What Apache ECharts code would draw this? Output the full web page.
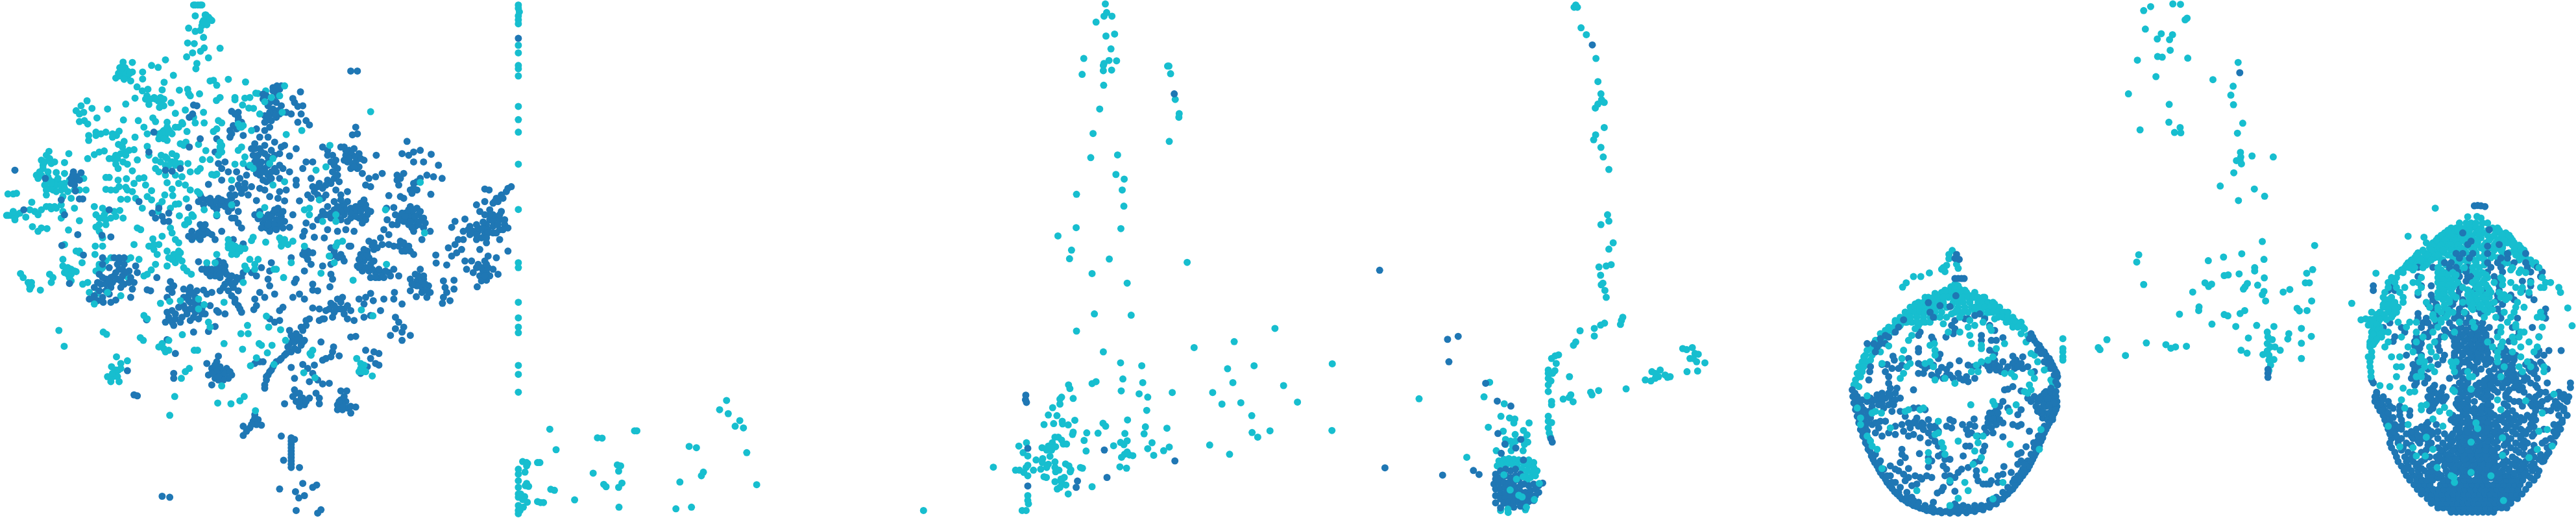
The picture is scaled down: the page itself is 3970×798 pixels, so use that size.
<!DOCTYPE html>
<html><head><meta charset="utf-8"><style>html,body{margin:0;padding:0;background:#fff}#c{width:3970px;height:798px}</style>
<script src="https://cdn.jsdelivr.net/npm/echarts@6/dist/echarts.min.js"></script></head><body><div id="c"></div>
<script>
const tealColor='#17becf', blueColor='#1f77b4';
const p1Teal=[598,15,585,15,610,15,590,48,622,45,630,52,640,62,615,62,610,78,625,75,570,85,590,95,605,92,615,113,567,130,587,132,617,145,606,155,582,160,665,146,564,172,630,175,595,192,592,208,
372,188,362,205,378,205,368,215,385,215,400,218,375,225,360,230,350,236,385,232,395,245,400,189,431,218,458,198,478,204,500,181,524,228,431,239,496,249,414,263,447,270,430,275,444,290,455,300,450,316,408,297,380,315,466,295,490,272,485,295,478,305,495,320,482,325,517,311,542,273,567,270,575,290,570,283,603,284,635,245,645,243,655,258,690,240,742,248,654,304,665,295,710,295,710,302,740,297,755,295,780,283,803,275,773,282,733,318,752,327,766,328,615,340,585,355,560,333,530,343,660,365,590,372,617,372,550,371,530,385,505,370,373,363,418,365,462,357,470,368,435,385,445,405,408,415,510,393,495,395,500,410,485,410,520,405,505,425,480,420,540,385,552,375,565,398,562,430,545,435,555,440,645,398,655,390,670,372,600,437,622,456,612,483,635,483,597,518,605,510,640,528,655,527,
263,305,245,320,230,335,240,345,253,340,278,328,325,330,240,368,255,365,265,375,293,357,268,410,290,400,305,405,320,400,340,405,352,410,360,397,268,425,358,437,375,428,370,445,390,455,405,453,380,460,365,465,350,470,342,480,355,480,380,470,372,490,350,497,357,510,385,497,265,480,285,468,300,460,315,457,330,480,400,517,415,484,445,443,450,470,470,485,487,470,500,475,520,465,533,472,485,490,470,510,480,520,500,500,520,490,530,500,545,495,568,495,500,530,505,553,530,530,550,535,540,555,575,520,575,575,597,580,560,560,520,572,522,592,330,537,320,537,357,545,382,541,360,565,350,575,320,573,335,575,405,555,420,540,435,538,440,560,380,567,385,575,400,580,458,577,445,595,458,605,410,600,385,603,365,603,430,630,480,622,498,590,490,610,530,618,540,617,563,602,515,630,478,640,542,653,580,650,567,665,558,680,570,672,584,655,
148,458,140,470,125,485,130,500,150,480,165,490,195,492,208,465,110,530,120,520,130,510,145,520,170,522,195,525,135,560,150,545,165,550,180,555,195,555,210,545,150,570,165,565,185,575,205,580,225,575,240,575,260,575,253,540,140,590,190,595,215,600,24,587,40,587,50,585,96,612,20,652,35,652,50,650,60,645,45,665,78,657,90,635,105,640,115,650,125,635,140,625,155,632,170,630,185,620,190,640,185,660,225,630,240,668,98,686,115,700,125,690,142,692,207,696,285,625,310,630,320,640,345,640,362,637,290,650,300,660,320,665,335,660,350,655,372,660,320,680,290,687,300,700,310,720,310,745,288,745,195,740,230,760,240,765,287,770,415,690,425,695,405,740,462,723,490,715,480,740,450,745,465,740,465,755,530,725,540,735,515,690,520,705,560,680,600,720,
475,770,505,760,510,780,525,770,545,765,535,780,550,790,505,805,470,800,530,795,555,810,565,820,578,830,420,785,435,835,445,830,457,817,385,785,395,780,190,785,190,805,205,810,215,815,205,830,230,822,195,825,210,840,215,850,248,795,240,760,300,800,305,815,290,820,320,790,335,780,385,838,62,828,70,840,85,855,95,865,90,875,122,878,150,830,160,840,155,855,265,855,250,860,270,885,295,888,
170,560,155,555,160,575,175,540,185,560,170,580,140,550,125,530,145,535,135,490,155,495,115,540,140,575,195,570,370,200,365,215,380,225,392,222,375,240,358,222,440,300,470,300,485,310,495,300,505,385,500,400,515,400,490,400,480,405,495,420,350,407,340,415,290,410,520,490,510,500,530,490,505,480,165,625,150,625,45,655,25,652,40,640,315,650,310,660,300,680,205,825,215,830,200,815,225,820,90,865,95,855,620,45,625,60,635,58,612,68,590,15,605,15,300,805,310,810,530,770,540,780,520,785,540,760];
const p1Blue=[837,260,825,265,845,270,835,280,908,278,795,285,885,298,890,310,915,320,900,322,835,310,850,320,810,320,825,330,845,345,865,340,880,345,800,350,820,365,835,355,910,345,925,365,900,370,935,378,815,385,775,390,800,395,785,415,810,415,830,430,860,440,850,445,895,450,770,435,785,450,800,440,820,455,780,470,800,465,845,465,875,472,770,490,790,490,810,490,775,510,800,510,830,510,855,510,785,530,810,530,835,520,875,520,795,545,815,545,845,540,895,545,895,560,800,575,845,580,860,608,840,600,815,595,865,575,
700,337,720,340,720,355,730,370,705,380,695,395,695,415,735,410,655,420,650,460,680,490,660,495,670,510,690,520,715,520,750,505,745,530,725,540,740,555,760,565,720,560,670,545,630,558,700,570,730,585,750,590,785,570,775,607,695,590,660,600,635,600,605,590,600,610,615,620,645,625,665,620,680,610,700,600,715,615,690,640,655,653,720,640,700,660,720,675,730,690,595,320,585,318,572,355,582,345,465,400,605,420,572,445,545,510,520,518,500,515,570,628,510,645,490,655,470,660,480,630,420,610,460,645,510,670,495,670,330,635,235,710,335,717,308,712,187,743,252,772,195,650,185,605,240,602,250,602,222,520,245,523,215,540,230,545,225,560,228,578,137,540,45,515,72,635,450,460,
840,630,825,645,810,650,850,655,790,655,770,650,835,665,815,670,795,675,860,670,845,680,825,690,805,690,875,688,885,650,785,640,
1075,385,1065,408,1080,405,1060,215,1080,215,1230,428,975,445,990,455,1005,470,1015,485,1040,445,1055,455,1070,450,1045,470,1065,470,1085,465,1050,490,1075,490,1100,485,1060,510,1085,505,1137,470,925,490,945,490,915,510,1020,510,1005,520,1010,540,990,545,1025,550,940,540,965,555,945,565,975,570,960,590,985,590,930,590,1015,575,1050,580,1030,590,1115,540,1135,535,1155,525,1105,560,1095,525,1120,565,905,608,1100,605,1085,625,1050,610,1030,625,1010,635,990,625,975,640,1075,640,1060,630,1100,630,1040,650,1060,660,1085,660,1110,650,1095,675,960,665,1000,660,1030,665,925,675,945,685,920,700,915,715,990,695,1020,700,1045,695,1070,700,950,718,980,720,1055,745,1115,730,1130,735,1175,592,1168,630,1190,628,1210,595,1220,600,1170,665,1185,680,1160,695,1175,710,1150,720,1200,530,1220,525,1205,560,1215,465,1235,470,1250,460,1270,455,1250,490,1280,490,1303,467,1325,500,1250,555,1270,540,1290,530,1310,535,1336,540,1240,575,1260,575,1302,588,
1240,625,1260,630,1225,645,1245,645,1265,650,1210,655,1230,665,1250,665,1275,665,1235,680,1255,685,1280,690,1200,680,1300,700,1250,700,1275,725,1190,745,1210,730,1225,745,1240,760,1215,760,1250,770,1175,740,1155,740,1130,755,1110,760,1090,770,1115,780,1100,790,1130,790,1080,805,1095,820,1115,820,1135,825,1155,825,1175,825,1190,815,1205,835,1120,840,1145,840,
1270,815,1255,830,1240,845,1260,850,1280,845,1250,862,1275,870,1295,865,1240,880,1300,885,1275,885,1258,898,1290,900,1340,850,1372,848,1345,870,1372,875,1350,885,1340,900,1360,910,1337,918,
1465,572,1478,575,1545,565,1530,580,1515,590,1500,600,1490,615,1465,610,1440,620,1450,640,1480,635,1495,660,1480,665,1510,665,1525,680,1470,680,1440,680,1490,685,1510,695,1535,690,1405,663,1420,685,1375,670,1365,688,1400,700,1420,710,1445,700,1465,705,1490,705,1440,725,1400,725,1385,725,1470,735,1510,725,1355,750,1375,740,1380,765,1395,755,1365,775,1405,790,1425,790,1450,755,1475,775,1500,780,1535,760,1317,772,1318,796,1350,802,1445,800,1410,815,1430,825,1455,810,1470,825,1490,815,1505,830,1450,835,1470,848,1442,868,
1060,745,1085,810,1000,800,975,805,1040,790,1030,770,1010,770,1000,750,1000,830,1005,845,920,820,890,855,895,845,997,868,945,860,960,880,945,878,930,760,915,770,945,765,930,785,940,800,880,780,
600,792,610,815,625,825,640,815,655,800,660,820,680,805,685,830,665,840,690,850,720,845,705,870,730,840,690,880,735,825,760,825,775,835,790,810,820,795,815,820,810,845,815,865,830,890,785,885,770,905,800,900,775,925,767,937,710,905,720,925,730,945,665,880,640,885,680,950,660,945,580,700,605,680,620,680,595,715,615,710,640,710,650,725,580,725,670,700,705,725,735,738,710,745,515,852,525,865,445,877,455,880,520,885,505,900,575,870,595,880,615,878,570,895,590,900,625,890,575,915,555,925,590,930,610,935,635,925,655,940,505,945,530,950,520,975,550,960,575,970,600,965,630,1003,650,988,585,1005,500,975,525,985,443,968,505,1028,530,1070,474,840,
310,780,345,780,360,790,375,800,310,800,410,805,330,810,360,815,390,820,300,830,320,845,345,835,370,835,395,840,415,825,295,855,340,855,365,850,405,855,285,870,365,870,400,875,320,880,270,905,285,895,310,900,335,915,312,915,350,908,395,900,210,858,330,890,
660,1078,655,1095,625,1100,640,1115,665,1110,685,1115,700,1135,645,1130,670,1140,690,1145,630,1135,640,1165,660,1150,525,1130,525,1145,385,1122,405,1195,415,1198,1060,1020,1075,1018,
935,965,925,985,910,990,875,1000,885,1025,905,1020,875,1040,910,1045,900,1060,880,1065,865,1070,850,1085,835,1095,820,1120,810,1135,805,1150,800,1165,800,1175,770,1100,785,1095,795,1095,880,1112,915,1103,930,1115,950,1105,945,1130,935,1155,960,1150,975,1162,995,1160,890,1145,970,1035,1008,1050,1005,1065,985,1085,1000,1080,1025,1077,975,1090,
1020,905,1035,900,1000,918,985,940,965,935,945,932,1020,935,1005,960,980,965,965,970,1040,935,1060,940,1050,965,1070,970,1085,905,1105,900,1100,920,1128,910,1100,960,1120,955,1150,940,1120,888,1160,905,1192,885,1190,905,1215,920,1195,960,1205,975,1220,990,1195,995,1215,1005,1240,1015,1180,1015,1215,1030,1105,1060,1130,1065,1145,1070,1120,1085,1135,1100,1145,1105,1110,1110,1090,1130,1100,1110,855,930,845,940,815,965,830,975,845,970,885,900,905,890,920,905,
890,1180,905,1190,885,1200,915,1205,935,1205,905,1230,860,1222,955,1190,965,1205,965,1222,1030,1183,1048,1183,1030,1210,1045,1215,1020,1225,1050,1235,1075,1232,1060,1250,1035,1240,770,1255,780,1270,765,1275,790,1287,755,1295,745,1305,735,1318,735,1290,850,1320,880,1325,890,1330,880,1345,880,1365,880,1385,857,1393,880,1415,905,1415,490,1502,513,1505,845,1480,915,1463,893,1488,920,1500,903,1507,945,1475,957,1468,895,1545,970,1543,960,1553,
780,662,800,662,820,655,840,645,855,640,830,680,810,680,790,690,815,700,835,695,855,690,830,635,845,665,1235,635,1250,635,1215,645,1235,655,1255,655,1270,640,1220,670,1240,672,1262,672,1280,660,1205,668,1245,690,1265,680,1285,675,1225,655,1195,650,1220,735,1235,745,1205,745,1225,760,
1445,690,1460,690,1475,695,1490,670,1505,680,1520,695,1500,705,1460,672,1475,705,1430,700,1415,695,1490,650,1510,650,1480,650,1465,650,1455,720,1470,720,1440,710,1525,665,1515,640,1505,610,1520,600,1535,570,1495,610,1465,790,1460,820,1475,810,1440,810,1470,800,1480,835,1455,850,1465,835,
625,810,640,825,655,815,670,810,680,820,650,835,665,830,635,835,660,790,675,795,695,840,710,855,700,860,715,840,650,1105,660,1120,675,1125,650,1145,665,1130,680,1130,695,1125,655,1125,640,1130,675,1150,660,1140,
790,510,810,500,820,520,800,520,775,525,790,460,775,480,765,470,810,475,830,470,785,500,820,540,790,520,845,500,805,550,760,450,770,450,840,335,820,345,830,345,815,340,805,365,810,350,800,370,835,265,850,260,825,275,840,290,825,305,815,310,795,300,805,290,
1040,620,1060,645,1075,625,1090,640,1105,620,1110,635,1090,615,1045,635,1030,640,1020,625,1075,655,1050,670,1095,655,1010,610,1030,605,1000,645,1020,650,985,650,970,655,1105,665,1120,640,1060,460,1055,480,1075,475,1090,480,1065,495,1045,455,1030,445,1040,485,1080,510,1070,505,990,470,1000,490,1010,500,1020,530,1000,555,985,560,960,565,950,580,940,600,975,600,
1105,810,1125,815,1145,815,1165,820,1180,835,1160,840,1135,840,1120,800,1100,775,1090,800,1110,770,1125,745,1140,750,1100,755,1085,785,1265,835,1275,855,1285,860,1260,865,1290,880,1245,860,1280,835,
555,900,570,910,585,915,600,920,560,935,575,935,590,945,610,950,540,930,520,940,510,960,530,965,545,975,565,950,585,960,620,950,570,880,555,875,580,885,520,870,510,875,355,800,370,815,380,825,350,825,335,840,355,845,320,860,305,860,335,870,300,880,280,905,295,910,375,860,390,855,310,840,330,850,360,780,375,780,220,530,232,535,240,545,215,555,
700,895,710,915,725,935,720,880,680,860,675,870,700,835,610,695,600,705,625,700,585,715,605,725,630,705,615,690,570,715,650,610,670,605,680,625,690,610,625,605,610,600,635,615,655,635,710,590,725,570,740,570,700,630,710,660,1010,760,1020,780,1035,780,1000,775,925,775,935,765,920,760,
890,1035,900,1030,920,1030,890,1055,915,1035,870,1050,860,1075,845,1090,825,1110,815,1125,805,1140,1035,1225,1025,1215,1040,1200,1060,1230,1020,1240,895,1190,910,1205,895,1215,920,1225,905,1215,925,1215,770,1265,775,1285,760,1285,880,1335,880,1355,880,1375,880,1395,880,1405,995,935,1010,945,1030,935,1040,950,1050,925,1030,915,1010,925,975,965,925,970,915,1000,895,1010,880,1015,710,345,725,380,715,390,700,405,720,365,1210,540,1200,545,1260,550,1250,570,1245,585];
const p1TealTop=[325,885,285,920,365,895,690,725,700,740,690,750,710,760,725,760,700,770,740,752,765,718,760,728,803,733,845,720,860,725,850,745,885,730,870,740,920,745,755,785,740,805,770,800,780,785,745,815,770,815,655,770,625,795,650,795,735,855,828,815,835,815,857,840,880,795,970,827,1010,795,1020,735,1035,730,1015,745,995,775,1067,848,1168,800,1283,705,1270,552,1165,635,1015,650,1015,670,975,670,935,650,920,635,935,630,965,605,955,515,985,505,997,440,860,550,800,628,785,650,700,620,1120,338,865,407,912,395,860,260,845,290,853,340,820,295,800,308,785,345,760,395,725,385,735,380,720,455,730,445,710,497,735,495,755,500,765,510,740,475,665,430,668,445,660,470,670,460,825,480,815,495,825,560,700,545,648,530,603,585,617,635,655,650,
485,918,513,912,545,910,600,905,617,922,600,935,677,915,435,955,445,965,630,975,635,990,178,1000,312,1005,322,1012,194,1048,424,1022,433,1030,551,1013,587,1060,597,1060,677,1040,733,1057,728,1010,748,985,750,1010,805,957,812,990,848,998,863,1030,783,1040,790,1045,822,1045,808,1068,775,1083,757,1107,828,1103,937,1070,945,1060,940,1075,918,1128,952,1143,490,1040,510,1030,495,1055,510,1060,480,1050,500,1065,352,1080,385,1092,365,1100,337,1110,358,1120,350,1130,340,1140,325,1140,335,1155,360,1155,528,1200,513,1257,572,1115,560,1125,548,1145,658,1220,698,1222,725,1213,738,1200,772,1243,1092,938,1127,956,1078,1085,1095,1115,1085,1125,1105,1125,1125,1138,1090,1100,670,1168,
700,755,710,745,715,770,690,740,725,750,350,1120,345,1130,355,1140,340,1130,365,1115,1095,1125,1090,1115,1100,1105,850,730,860,735,730,385,720,375,665,445,670,440,665,455];
const p2Teal=[37,15,37,25,40,36,37,48,37,60,37,72,37,137,37,160,37,198,37,208,37,230,37,322,37,362,37,400,37,497,37,634,37,795,37,810,37,915,37,962,37,990,37,1007,37,1106,37,1133,37,1187,37,1420,37,1435,37,1455,37,1475,37,1495,37,1505,37,1530,37,1545,37,1555,
132,1299,151,1361,276,1325,290,1326,388,1304,395,1304,666,1212,645,1240,671,1252,706,1273,692,1290,717,1295,553,1351,575,1355,727,1370,50,1397,62,1400,65,1403,62,1410,95,1400,102,1400,57,1429,336,1407,346,1410,340,1426,263,1432,596,1429,590,1440,525,1459,757,1467,295,1466,302,1473,350,1462,340,1475,62,1463,58,1470,68,1472,135,1481,146,1484,207,1513,48,1503,56,1503,50,1512,44,1495,64,1520,95,1518,104,1521,113,1521,52,1535,42,1545,341,1535,513,1540,560,1535,1261,1545,1472,1414,
1549,1350,1562,1370,1572,1340,1576,1380,1539,1423,1551,1423,1564,1430,1571,1415,1576,1408,1576,1440,1576,1500,1576,1515,1559,1545,1571,1545,1578,1525];
const p2Blue=[37,116,1576,1357,1576,1471,1570,1196,1569,1210,1572,1218];
const p3Teal=[232,12,236,38,228,49,252,49,204,67,234,109,260,103,249,148,167,177,228,192,226,198,243,183,266,184,162,225,226,214,251,212,227,258,420,200,424,200,429,223,443,301,455,344,454,355,425,428,215,330,195,404,188,477,269,469,264,528,289,542,283,575,145,588,288,624,144,689,279,692,89,714,130,757,124,783,244,784,479,794,192,828,298,857,199,950,310,954,145,1002,744,994,621,1034,500,1052,226,1065,278,1098,342,1107,917,1101,601,1116,681,1107,285,1147,192,1161,204,1155,345,1158,617,1158,770,1167,121,1165,125,1176,280,1183,334,1192,360,1202,434,1188,556,1188,584,1223,641,1219,812,1217,1179,1207,100,1202,95,1208,95,1223,135,1206,73,1234,357,1242,60,1256,86,1258,674,1258,102,1275,103,1283,140,1272,120,1286,47,1285,76,1282,299,1271,225,1281,233,1290,353,1292,418,1296,135,1308,133,1315,176,1310,210,1311,291,1312,349,1313,675,1309,729,1304,692,1323,916,1303,80,1323,90,1323,100,1332,168,1333,278,1339,288,1346,298,1334,257,1349,373,1340,547,1347,425,1353,72,1340,60,1350,70,1355,82,1352,105,1344,115,1344,41,1355,55,1362,70,1362,174,1365,360,1358,408,1364,298,1368,290,1375,281,1384,305,1377,315,1379,378,1378,607,1375,65,1381,23,1392,43,1388,42,1400,80,1398,60,1405,112,1404,122,1410,157,1415,163,1417,276,1413,296,1417,37,1420,55,1415,80,1415,92,1423,82,1428,128,1422,126,1428,15,1423,47,1443,54,1445,98,1450,108,1445,80,1458,100,1460,113,1468,95,1475,87,1480,192,1473,120,1495,
1392,1157,1375,1201,1436,1222,1426,1260,1452,1265,1468,1268,1465,1280,1511,1280,1388,1293,1433,1305,1494,1303,1505,1316,1469,1315,1440,1330,1455,1335,1470,1335,1495,1330,1507,1338,1440,1345,1497,1345,1462,1350,1412,1364,1457,1364,1493,1364,1323,1384,
1420,1395,1435,1390,1450,1388,1465,1390,1480,1392,1510,1392,1525,1400,1415,1410,1430,1405,1445,1405,1460,1405,1475,1408,1495,1405,1510,1410,1525,1415,1535,1425,1490,1420,1505,1425,1520,1430,1500,1440,1515,1445,1530,1440,1505,1455,1425,1545,1448,1551,1500,1543];
const p3Blue=[440,284,1060,818,1265,1027,1297,1018,1269,1095,229,1362,442,1395,237,1445,148,1456,144,1475,1076,1416,1250,1438,1343,1424,1360,1436,1380,1160,1415,1214,1456,1229,1417,1312,1486,1330,1438,1344,1471,1356,1427,1372,1494,1392,
1410,1435,1425,1425,1440,1420,1455,1425,1470,1420,1410,1450,1425,1445,1440,1440,1455,1445,1470,1440,1485,1435,1405,1465,1420,1462,1435,1460,1450,1460,1465,1458,1480,1452,1495,1465,1410,1480,1425,1478,1440,1475,1455,1475,1470,1475,1485,1470,1510,1470,1525,1465,1540,1470,1410,1500,1425,1495,1440,1492,1455,1490,1470,1490,1485,1488,1500,1490,1515,1485,1530,1480,1540,1490,1425,1510,1440,1508,1455,1505,1470,1505,1485,1505,1500,1505,1515,1500,1530,1500,1410,1522,1435,1523,1450,1520,1465,1520,1480,1520,1495,1520,1510,1518,1525,1515,1425,1537,1450,1535,1465,1535,1485,1532,1500,1535,1552,1462];
const p3TealTop=[1435,1437,1454,1483,1480,1499,1490,1504,1447,1541,1503,1535,1527,1512,1506,1425,1473,1450,1493,1443,1542,1463];
const p4Teal=[90,22,100,22,95,15,111,84,127,105,156,177,162,247,171,284,173,302,162,315,181,310,154,327,181,386,155,408,149,423,171,446,178,475,195,513,191,650,195,669,171,680,208,735,195,754,165,808,187,805,202,801,170,833,177,857,172,862,183,879,187,900,237,960,233,970,230,982,182,978,170,984,151,994,151,1017,108,1001,95,1035,88,1045,43,1074,33,1077,22,1085,36,1100,32,1122,25,1130,12,1120,12,1130,12,1145,20,1153,12,1165,12,1185,76,1140,164,1182,140,1187,144,1195,57,1208,80,1195,87,1216,75,1203,22,1215,22,1225,247,1177,305,1150,322,1153,325,1125,335,1130,350,1120,345,1140,335,1145,365,1135,380,1140,372,1142,418,1055,430,1058,447,1052,455,1070,465,1072,440,1085,450,1085,460,1095,485,1098,431,1125,463,1123,12,1260,12,1275,22,1279,12,1295,15,1310,18,1322,
1115,837,1137,837,1163,826,1082,869,1093,856,1232,758,1222,770,1222,783,1215,803,1205,810,1200,815,1210,822,1250,812,1245,800,1228,868,1240,860,1250,865,1255,875,1235,880,1220,880,
1020,1015,1005,1030,990,1045,975,1060,985,1055,970,1075,990,1075,1015,1065,985,1090,960,1095,950,1110,960,1125,945,1130,940,1150,935,1165,950,1170,1000,1030,1030,1000,1060,970,1090,945,1120,920,1150,900,1180,888,1210,878,1240,876,1270,878,1300,885,1330,900,1360,920,1390,945,1420,970,1450,995,
1040,1000,1055,1005,1075,985,1090,975,1110,975,1130,985,1150,975,965,1080,975,1095,1000,1060,1010,1045,1025,1030,1015,1010,965,1110,950,1140,942,1165,955,1140,1440,1010,1460,1015,1455,1035,1480,1075,1490,1095,1470,1070,1520,1115,1510,1120,1530,1150,1540,1170,1535,1160,1200,895,1220,890,1240,890,1215,930,1230,925,1285,895,1300,900,1285,915,1290,930,1280,945,1300,940,1320,945,1330,960,1360,965,1345,945,1200,945,1215,960,1195,960,1120,945,1095,975];
const p4TealRows=[[885,[1200,1215,1230,1245,1260,1275]],[900,[1160,1175,1190,1205,1220,1235,1250,1265,1280,1295,1310,1325]],[915,[1130,1145,1160,1175,1190,1205,1235,1250,1265,1285,1310,1325,1340,1355]],[930,[1105,1120,1135,1150,1165,1180,1195,1250,1270,1300,1315,1330,1345,1360,1375]],[945,[1090,1105,1120,1135,1150,1165,1180,1240,1255,1340,1355,1370,1385,1400]],[960,[1075,1090,1105,1125,1145,1165,1180,1370,1385,1400,1415]],[975,[1060,1075,1125,1140,1165,1395,1410,1425,1440]],[990,[1040,1055,1415,1430,1445]]];
const p4Blue=[145,136,20,1328,24,1338,1245,770,1240,782,1253,785,1240,843,1250,843,1260,843,1268,843,1243,895,
930,1180,932,1200,935,1220,940,1240,945,1260,950,1280,955,1300,962,1320,970,1340,978,1360,988,1380,998,1400,1010,1420,1022,1440,1035,1460,1050,1478,1065,1495,1080,1510,1098,1522,1115,1530,1135,1538,1155,1545,1175,1550,1200,1552,1225,1553,1250,1553,1275,1552,1300,1548,1325,1543,1345,1535,1365,1525,1385,1510,1400,1495,1415,1480,1430,1460,1445,1440,1460,1420,1470,1400,1480,1380,1490,1360,1500,1335,1510,1310,1520,1290,1530,1270,1540,1250,1548,1230,
945,1200,950,1225,955,1250,960,1275,970,1295,965,1310,980,1330,985,1350,1000,1375,1015,1395,1025,1420,1045,1440,1060,1460,1075,1475,1095,1490,1110,1505,1130,1520,1150,1530,1170,1535,1265,1530,1280,1535,1250,1535,1240,1525,1225,1540,1300,1530,1320,1530,1345,1515,1365,1505,1385,1490,1400,1475,1415,1460,1430,1440,1445,1420,1460,1395,1470,1375,1480,1355,1490,1335,1500,1315,1510,1290,1525,1260,1535,1240,
1470,1010,1480,1030,1495,1045,1510,1065,1525,1085,1535,1105,1545,1125,1550,1140,1510,1095,1490,1060,1465,1025,1515,1185,1530,1185,1545,1185,1500,1200,1515,1200,1530,1200,1545,1200,1490,1215,1505,1215,1520,1215,1535,1215,1548,1215,1480,1200,1485,1230,1500,1235,1515,1230,1530,1232,1545,1232,1510,1250,1525,1250,1540,1250,1505,1265,1520,1270,1535,1270,
960,1210,975,1215,990,1215,1005,1210,965,1240,970,1260,985,1265,975,1280,990,1285,960,1295,975,1305,1000,1280,1015,1275,1030,1275,1010,1295,1000,1310,1020,1320,
1160,916,1195,925,1225,928,1165,945,1175,960,1240,970,1230,985,1270,965,1280,965,1300,955,1315,950,1330,965,1345,985,1360,1000,1085,968,1070,990,1060,1005,1030,1015,1015,1040,1135,1005,1130,1015,1170,1020,1175,1030,1213,1020,1240,995,1235,1010,1320,1015,1320,1030,1350,1030,1365,1030,1385,1022,1345,1060,1360,1070,1130,1055,1130,1065,1053,1078,1057,1090,1020,1103,1035,1103,1070,1115,1080,1105,1100,1085,1195,1072,1190,1085,1215,1118,1225,1105,1253,1092,1280,1105,1295,1110,1140,1105,1160,1108,1175,1105,1200,1112,1310,1110,1330,1100,1345,1100,1365,1105,1385,1095,1415,1078,1425,1090,1445,1080,1400,1110,1415,1100,1440,1100,1460,1110,1480,1125,1130,1130,1145,1130,1170,1135,1185,1140,1205,1145,1225,1135,1250,1130,1255,1145,1275,1140,1280,1155,1300,1145,1345,1120,1365,1120,1380,1125,1420,1115,983,1125,980,1150,1030,1125,1040,1140,1050,1115,1115,1180,
1045,1175,1020,1190,1040,1190,1060,1190,1005,1195,985,1205,1000,1210,1030,1205,1050,1210,1075,1205,1020,1220,1050,1245,1075,1245,1090,1260,1005,1280,1030,1275,1060,1290,1080,1285,1100,1280,1120,1275,1105,1295,1115,1315,1100,1320,1060,1315,1040,1310,1085,1305,1115,1235,1130,1235,1150,1240,1125,1265,1140,1280,1160,1270,1145,1300,1135,1325,1165,1290,1180,1290,1190,1305,1170,1320,1180,1335,1160,1340,1190,1350,1225,1270,1235,1275,1230,1295,1263,1285,1275,1300,1298,1268,1285,1285,1300,1290,1290,1310,1310,1320,1280,1315,1340,1265,1355,1250,1365,1240,1340,1280,1355,1275,1330,1295,1350,1295,1365,1285,1385,1280,1385,1215,1375,1230,1400,1235,1440,1240,1430,1255,1415,1285,1430,1290,1440,1285,1390,1180,1415,1170,1400,1178,1440,1183,1465,1305,1385,1322,
1080,1360,1080,1375,1090,1385,1133,1373,1075,1400,1100,1418,1160,1385,1170,1395,1160,1413,1190,1380,1200,1375,1210,1390,1205,1410,1215,1420,1225,1390,1265,1380,1273,1350,1285,1350,1300,1400,1330,1350,1325,1365,1315,1395,1305,1425,1260,1420,1250,1430,1280,1415,1388,1412,1440,1370,1455,1352,1430,1375,1440,1395,1430,1405,1410,1430,1385,1435,1370,1440,1350,1455,1345,1465,1325,1465,1335,1465,1305,1440,1310,1455,1225,1440,1210,1440,1225,1460,1240,1445,1205,1475,1240,1487,1187,1492,1155,1440,1170,1445,1135,1445,1120,1440,1100,1445,1070,1425,1085,1435,1090,1455,1110,1470,1125,1465,1140,1450,1175,1520,1200,1485,1370,1460,1045,1410,1060,1420,
938,1190,940,1210,942,1230,948,1245,952,1270,958,1290,960,1305,968,1325,975,1345,983,1365,993,1390,1005,1410,1015,1430,1030,1450,1043,1470,1058,1488,1073,1502,1090,1515,1108,1525,1125,1533,1145,1540,1165,1545,1188,1548,1212,1548,1238,1548,1262,1545,1288,1545,1312,1540,1335,1532,1355,1525,1375,1512,1392,1500,1408,1485,1422,1470,1437,1450,1452,1430,1465,1410,1475,1390,1485,1370,1495,1350,1505,1325,1515,1300,1525,1280,1535,1262,1545,1240,1195,1545,1255,1540,1240,1540,1175,1540,1115,1515,1095,1505,1070,1490,1050,1460,1035,1440,1010,1405,1420,1450,1440,1430,1450,1405,1478,1340,1470,1395,1492,1320,
1475,1020,1487,1040,1500,1055,1515,1075,1530,1095,1540,1115,1548,1130,1500,1070,1520,1100,1530,1115,1540,1135,1545,1155,1550,1165,1520,1205,1510,1225,1495,1205,1510,1190,1530,1175,1540,1220,1525,1225,1500,1250,1490,1245,1470,1215,1460,1205,1015,1025,1030,1040,1040,1020,1005,1050,995,1040,1000,1065,985,1110,975,1040,
950,1215,958,1230,965,1265,980,1245,990,1230,1010,1225,1025,1235,1045,1195,1060,1210,1040,1225,1015,1205,1065,1175,1040,1160,1020,1205,1055,1225,1115,1280,1170,1295,1185,1300,1160,1310,1145,1285,1130,1290,1350,1265,1345,1250,1365,1265,1375,1270,1370,1250,1335,1310,1355,1310,1215,1290,1130,1100,1150,1115,1190,1125,1215,1135,1235,1145,1265,1150,1350,1110,1375,1110,1395,1120,1420,1095,1430,1110,1445,1115,1360,1090,1340,1110];
const p4TealTop=[1120,995,1100,1030,1110,1015,1085,1060,1205,980,1230,950,1245,940,1265,945,1255,960,1285,970,1300,985,1325,975,1350,1000,1345,990,1255,1005,1280,990,1285,1015,1290,1040,1320,1045,1320,1055,1390,1040,1355,1080,1365,1055,1220,1005,1178,1040,1165,1045,1180,1060,1180,1075,1040,1047,1020,1100,1080,1085,1105,1100,1095,1110,1085,1130,1075,1145,1165,1095,1150,1100,1175,1110,1210,1145,1180,1150,1240,1160,1290,1125,1305,1105,1320,1095,1340,1090,1310,1125,1390,1130,1410,1130,1420,1140,1470,1128,1480,1145,1465,1165,1470,1180,1450,1185,1460,1190,1425,1225,1360,1225,1355,1215,1405,1245,1288,1225,975,1198,945,1235,955,1265,955,1285,990,1250,1018,1250,1000,1245,975,1320,985,1335,990,1350,1005,1360,1045,1295,1090,1245,1100,1240,1135,1240,1145,1235,1190,1275,1190,1310,1180,1315,1200,1340,1205,1355,1250,1335,1305,1320,1325,1320,1310,1340,1300,1365,1320,1385,1295,1405,1330,1422,1407,1345,1500,1300,1495,1360,1160,1370,1160,1395,1125,1485,1020,1418,1225,1530,1250,1508,1280,1485,1270,1460,1225,1455,1210,1375,1385,1460,1355,1510];
const p5Teal=[18,1025,18,1055,18,1065,18,1080,18,1090,262,32,283,20,350,12,373,13,393,55,387,60,267,88,315,102,349,105,303,118,340,120,342,152,304,171,318,173,243,182,395,176,299,232,216,284,339,316,338,370,251,393,372,386,355,401,374,402,547,189,471,241,532,261,525,288,533,317,561,373,545,403,554,461,555,475,542,486,553,485,557,496,589,472,653,475,534,523,493,563,596,572,627,594,548,607,620,731,778,743,625,785,558,768,503,778,457,789,247,771,241,793,597,810,597,820,772,816,754,827,505,834,517,832,550,829,626,841,262,861,447,856,458,867,467,860,750,856,762,856,606,863,575,858,568,868,563,875,703,876,683,884,625,882,620,892,410,884,630,911,769,911,429,929,428,940,725,933,732,941,755,940,567,940,553,949,370,951,505,952,516,956,468,981,540,988,603,985,655,988,635,1005,738,994,700,1010,697,1026,768,1018,738,1039,637,1020,650,1028,578,1023,635,1040,645,1050,658,1050,635,1062,622,1073,640,1075,655,1088,640,1090,645,1105,738,1085,674,1060,556,1060,574,1069,151,1028,125,1052,130,1058,207,1076,270,1038,329,1043,344,1054,358,1050,391,1048,890,918,918,968,932,965,945,967,940,984,963,827,1060,715,1108,718,1115,735,1142,630,1542,932,1555,986,640,1122,1240,656,1268,655,1280,660];
const p5TealRows=[[675,[1215,1235,1250,1265,1285,1300]],[690,[1190,1205,1220,1235,1250,1265,1280,1315,1330]],[705,[1170,1185,1200,1215,1235,1265,1285,1325,1340,1355]],[720,[1150,1165,1180,1195,1210,1240,1255,1280,1310,1340,1355,1370]],[735,[1135,1150,1165,1180,1195,1215,1235,1270,1295,1325,1360,1380]],[750,[1125,1140,1155,1170,1185,1200,1220,1250,1280,1310,1330,1345,1385,1400]],[765,[1090,1110,1125,1140,1155,1170,1235,1265,1295,1345,1365,1395]],[780,[1080,1095,1110,1125,1140,1155,1195,1275,1310,1330,1350,1400,1415]],[795,[1060,1075,1090,1105,1120,1160,1215,1240,1265,1360,1430,1445]],
[697,[1180,1210,1245,1275,1300,1335]],[712,[1160,1190,1225,1250,1275,1300,1320,1345,1365]],[727,[1145,1170,1205,1225,1250,1270,1305,1330,1350,1375]],[742,[1130,1160,1190,1210,1240,1265,1290,1320,1345,1375,1395]],[757,[1105,1130,1165,1190,1210,1230,1260,1290,1320,1340,1380,1410]],[772,[1085,1120,1150,1180,1200,1250,1290,1315,1385,1410]],[787,[1070,1100,1130,1165,1200,1230,1260,1290,1345,1395,1430]],[802,[1055,1085,1115,1175,1210,1265,1290,1345,1440]],[817,[1040,1075,1160,1185,1220,1250,1370,1400]]];
const p5TealTopRows=[[810,[1050,1065,1080,1105,1150,1230,1255,1275,1375,1455]],[825,[1030,1045,1150,1170,1195,1265,1285,1395,1415]],[840,[1010,1025,1100,1150,1175,1200,1270,1300,1340,1465]],[855,[1000,1020,1075,1090,1150,1165,1180,1210,1255,1285,1320,1370,1430,1475,1490]],[870,[1000,1025,1050,1100,1155,1175,1195,1225,1265,1300,1385,1405,1460,1470,1515]],[885,[990,1035,1090,1150,1170,1190,1250,1275,1310,1335,1400,1425,1520]],[900,[985,1010,1045,1150,1175,1205,1255,1285,1305,1340,1365]],[915,[990,1005,1020,1045,1115,1185,1225,1245,1265,1290,1320,1390]],[930,[985,1000,1015,1030,1125,1150,1170,1250,1275,1300,1385,1410]],[945,[950,975,1005,1025,1160,1195,1230,1300,1350,1380,1460]],[960,[965,985,1010,1135,1175,1290,1325,1370,1450,1465]],[975,[955,970,1030,1065,1085,1160,1215,1255,1360]],[990,[960,975,1055,1150,1260,1340,1385,1465]],[1005,[950,965,985,1000,1085,1135,1200,1340,1400,1410]],[1020,[950,965,980,1040,1105,1170,1330,1375,1395,1455]],[1035,[945,960,1000,1085,1140,1300,1345,1380,1425]],[1050,[945,990,1060,1125,1315,1340,1400,1450]],[1065,[950,1130,1075,1330,1375,1440]],[1080,[940,950,1010,1035,1100,1145,1330,1400]],[1095,[945,1095,1110,1190,1205,1330,1420]],[1110,[945,1025,1040,1110,1130,1195,1350,1395,1430,1470]],[1125,[948,1100,1140,1200,1240,1405,1470]],[1140,[948,1025,1100,1085,1245,1255,1340]],
[832,[1160,1180,1205,1275,1295]],[847,[1165,1190,1265,1290,1345]],[862,[1160,1185,1200,1275,1295,1345]],[877,[1165,1190,1240,1280,1305]],[892,[1165,1195,1240,1265,1295,1350]],[907,[1000,1165,1185,1245,1270,1295,1355]],[922,[985,1000,1015,1170,1255,1280,1305]],[937,[1000,1020,1150,1180,1255,1290,1315]],[952,[965,990,1015,1135,1180]],[967,[955,975,995,1140,1160]],[982,[950,965,1385]],[997,[955,970]],[1012,[955,975]],[1028,[950,965]],[1043,[945,955]]];
const p5TealTop=[1005,1170,975,1167,1045,1175,1065,1187,1080,1185,1195,1180,1250,1178,1100,1228,1115,1225,1040,1210,1050,1235,1100,1240,1155,1245,1170,1233,1185,1250,1200,1185,1330,1210,1340,1240,1415,1213,1500,1193,1465,1250,1000,1290,1060,1285,1135,1268,1165,1290,1265,1280,1270,1297,1250,1338,1345,1325,1115,1323,1035,1352,1075,1355,1135,1360,1085,1380,1112,1380,1190,1440,1250,1430,1310,1440,1148,1415,1348,1515,1345,1378,1425,1385,1450,1360,1455,1305,1480,1300,1495,1350,1198,1445,1200,1460];
const p5Blue=[552,220,637,1118,637,1130,637,1142,1260,623,1270,622,1280,623,1292,625,1225,705,1250,730,1305,695,1335,740,1300,745,1240,740,950,1150,965,1195,972,1210,980,1225,990,1250,1000,1265,1010,1285,1015,1300,1020,1315,1030,1330,1515,1290,1505,1320,1490,1350,1480,1375,1470,1395];
const p5BlueRows=[[1550,[1190,1206,1222,1238,1254,1270,1286,1302,1318]],[1537,[1150,1166,1182,1198,1214,1230,1246,1262,1278,1294,1310,1326,1342,1358]],[1523,[1130,1146,1162,1178,1194,1210,1226,1242,1258,1274,1290,1306,1322,1338,1354,1370]],[1509,[1118,1134,1150,1166,1182,1198,1214,1230,1246,1262,1278,1294,1310,1326,1342,1358,1374,1390]],[1495,[1100,1116,1132,1148,1164,1180,1196,1212,1228,1244,1260,1276,1292,1308,1324,1340,1356,1372,1388,1404]],[1481,[1088,1104,1120,1136,1152,1168,1184,1200,1216,1232,1248,1264,1280,1296,1312,1328,1344,1360,1376,1392,1415]],[1467,[1078,1094,1110,1126,1158,1174,1190,1206,1222,1238,1254,1270,1286,1302,1318,1334,1350,1366,1382,1398,1425]],[1453,[1065,1086,1102,1118,1134,1166,1182,1214,1230,1246,1262,1278,1294,1326,1342,1358,1374,1390,1406,1440]],[1439,[1055,1075,1095,1120,1140,1160,1180,1225,1240,1270,1285,1300,1320,1350,1365,1380,1400,1420,1450]],[1425,[1048,1070,1090,1110,1130,1175,1195,1215,1235,1260,1280,1300,1325,1345,1365,1395,1415,1435,1455]],[1411,[1040,1060,1085,1125,1170,1190,1215,1240,1265,1285,1310,1330,1350,1385,1410,1430]],[1397,[1030,1055,1075,1100,1150,1170,1200,1225,1245,1275,1295,1320,1360,1395,1415,1465]],[1383,[1025,1050,1125,1145,1175,1195,1215,1240,1265,1285,1310,1330,1375,1440,1475]],[1369,[1020,1060,1100,1165,1190,1210,1235,1260,1280,1300,1320,1355,1395,1430,1485]],[1355,[1010,1045,1150,1175,1205,1225,1265,1285,1305,1330,1370,1410,1480]],[1341,[1005,1030,1055,1095,1130,1165,1190,1215,1235,1280,1300,1320,1360,1385,1420,1465,1500]],[1327,[1010,1040,1075,1105,1150,1180,1210,1235,1255,1290,1310,1370,1400,1490]],[1313,[1005,1055,1085,1110,1135,1170,1195,1225,1250,1280,1300,1320,1385,1415,1440,1510]],[1299,[1000,1025,1040,1085,1105,1120,1205,1235,1285,1305,1355,1400,1425,1470,1520]],[1285,[995,1020,1045,1115,1145,1210,1240,1290,1315,1370,1430,1500,1515]],[1271,[990,1005,1040,1190,1215,1240,1265,1290,1340,1365,1380,1410,1445,1525]],[1257,[985,1000,1035,1065,1195,1225,1280,1300,1320,1350,1385,1420,1440,1515,1540]],[1243,[975,990,1035,1065,1125,1225,1250,1270,1295,1375,1445,1475,1490,1530]],[1229,[968,985,1005,1035,1130,1210,1240,1285,1310,1360,1405,1435,1460,1500,1520]],[1215,[960,975,1000,1125,1145,1165,1215,1240,1260,1300,1380,1395,1440,1465,1505,1540]],[1201,[960,985,1120,1160,1175,1225,1280,1310,1355,1425,1445,1490,1520,1545]],[1187,[965,1140,1160,1215,1235,1265,1290,1330,1360,1410,1460,1475,1515]],[1173,[1135,1165,1200,1230,1290,1315,1345,1380,1405,1450,1550]],[1159,[955,1085,1110,1215,1240,1275,1300,1330,1360,1395,1430,1480,1550]],[1145,[1070,1120,1185,1225,1300,1320,1345,1365,1385,1420,1450]],[1131,[1075,1100,1215,1265,1335,1360,1380,1400,1440]],[1117,[1080,1120,1210,1245,1280,1320,1345,1375,1425,1445,1480]],[1103,[1075,1100,1150,1215,1245,1295,1325,1375,1415,1440,1465]],[1089,[1090,1125,1165,1215,1240,1265,1290,1310,1360,1380]],[1075,[1055,1100,1170,1200,1225,1255,1280,1345,1385,1450,1470]],[1061,[1090,1155,1210,1235,1260,1285,1325,1355,1455,1485,1522]],[1047,[1080,1150,1200,1220,1245,1270,1290,1340]],[1033,[1015,1080,1150,1200,1230,1265,1285,1310,1365]],[1019,[1020,1085,1120,1160,1195,1220,1245,1270,1295,1390,1455]],[1005,[1050,1125,1175,1210,1235,1260,1285,1330,1395]],[991,[985,1040,1100,1130,1195,1220,1250,1280,1305,1375,1435]],[977,[1005,1105,1120,1145,1185,1235,1265,1285]],[963,[1090,1115,1150,1200,1220,1245,1340,1390,1475]],[949,[978,1090,1145,1170,1210,1235,1280,1340,1470]],[935,[1135,1185,1215,1270,1330,1475]],[921,[1120,1145,1195,1225,1240,1310,1345]],[907,[1135,1200,1225,1260,1330,1380,1440]],[893,[1090,1130,1210,1330,1370,1425]],[879,[1000,955,1020,1215,1260,1285,1335,1405]],[865,[955,1015,1100,1130,1215,1265,1335,1430]],[851,[1015,1235,1250,1330,1405,1430]],[837,[1090,1215,1240,1250,1320,1460]],[823,[1180,1210,1235,1300,1345,1430,1465]],[809,[1090,1135,1185,1205,1240,1310,1340,1375,1420,1450]],[795,[1170,1190,1300,1330,1380,1415]],[781,[1215,1245,1340,1360]],[767,[1205,1225,1255,1300,1360,1415]],
[1446,[1150,1198,1310,1335,1430]],[1432,[1150,1205,1250,1290,1310,1335,1380,1410]],[1418,[1100,1145,1200,1225,1250,1275,1295,1320,1365,1400,1445,1055]],[1404,[1090,1135,1185,1210,1235,1260,1285,1305,1345,1375,1405,1440]],[1390,[1065,1110,1160,1185,1205,1230,1255,1275,1300,1350,1385,1430,1455]],[1376,[1075,1110,1155,1180,1225,1250,1270,1295,1320,1345,1410,1460]],[1362,[1040,1115,1160,1195,1220,1245,1275,1295,1315,1385,1440]],[1348,[1070,1120,1185,1240,1255,1275,1295,1350,1400,1440]],[1334,[1090,1120,1195,1225,1245,1270,1300,1330,1355,1410,1475]],[1320,[1025,1070,1095,1125,1190,1215,1240,1265,1290,1330,1355,1400,1435]],[1306,[1015,1070,1130,1150,1215,1240,1265,1295,1320,1340,1375,1410,1500]],[1292,[1010,1035,1100,1215,1250,1280,1300,1330,1360,1385,1440,1510]],[1278,[1000,1120,1200,1225,1250,1275,1300,1325,1350,1395,1435,1525]],[1264,[1015,1210,1240,1265,1285,1310,1335,1365,1400,1430]],[1250,[1000,1235,1260,1280,1310,1360]],[1236,[980,1015,1135,1215,1235,1260,1280,1300,1445,1510,1530]],[1222,[975,1140,1205,1225,1300,1350,1430,1450,1510]],[1208,[985,1130,1150,1170,1210,1240,1290,1365,1440,1480,1530]],[1194,[1130,1150,1225,1250,1270,1300,1355,1455,1530]],[1180,[1125,1215,1240,1275,1300,1320,1365,1395]],[1166,[1080,1140,1225,1265,1290,1310,1345,1385,1445]],[1152,[1085,1240,1290,1315,1350,1375,1410]],[1138,[1110,1205,1310,1330,1375,1410]],[1124,[1080,1230,1265,1305,1365,1430]],[1110,[1090,1205,1260,1340,1365]],[1096,[1100,1230,1270,1305,1350,1430,1460]],[1082,[1200,1250,1275,1300,1355,1370]],[1068,[1200,1225,1245,1270,1300,1345,1370]],[1054,[1095,1210,1235,1255,1280,1300,1350]],[1040,[1100,1210,1250,1275,1295]],[1026,[1100,1210,1240,1260,1280]],[1012,[1110,1190,1225,1250,1270,1295]],[998,[1170,1205,1235,1265,1290]]];

const pairs=a=>{const o=[];for(let i=0;i<a.length;i+=2)o.push([a[i],a[i+1]]);return o;};
const rows=r=>r.flatMap(([y,xs])=>xs.map(x=>[x,y]));
const panels=[
 {left:5,xMin:9.8,xMax:1553,layers:[[pairs(p1Teal),tealColor],[pairs(p1Blue),blueColor],[pairs(p1TealTop),tealColor]]},
 {left:798.5,xMin:36.3,xMax:1579,layers:[[pairs(p2Teal),tealColor],[pairs(p2Blue),blueColor]]},
 {left:1592,xMin:13.7,xMax:1555,layers:[[pairs(p3Teal),tealColor],[pairs(p3Blue),blueColor],[pairs(p3TealTop),tealColor]]},
 {left:2385,xMin:9.8,xMax:1552,layers:[[pairs(p4Teal).concat(rows(p4TealRows)),tealColor],[pairs(p4Blue),blueColor],[pairs(p4TealTop),tealColor]]},
 {left:3178.5,xMin:16.7,xMax:1558,layers:[[pairs(p5Teal).concat(rows(p5TealRows)),tealColor],[pairs(p5Blue).concat(rows(p5BlueRows)),blueColor],[rows(p5TealTopRows).concat(pairs(p5TealTop)),tealColor]]}
];
const grid=[],xAxis=[],yAxis=[],series=[];
panels.forEach((p,i)=>{
 grid.push({left:p.left,top:5,width:787,height:787.5,show:false});
 xAxis.push({type:'value',gridIndex:i,min:p.xMin,max:p.xMax,show:false,splitLine:{show:false}});
 yAxis.push({type:'value',gridIndex:i,min:9.8,max:1557,inverse:true,show:false,splitLine:{show:false}});
 p.layers.forEach(([d,c],j)=>series.push({type:'scatter',name:'panel'+(i+1)+'-'+j,xAxisIndex:i,yAxisIndex:i,data:d,symbol:'circle',symbolSize:11,itemStyle:{color:c,opacity:1},clip:true,silent:true,animation:false}));
});
const chart=echarts.init(document.getElementById('c'),null,{renderer:'canvas'});
chart.setOption({animation:false,backgroundColor:'#fff',grid,xAxis,yAxis,series,tooltip:{show:false},legend:{show:false}});
</script></body></html>
